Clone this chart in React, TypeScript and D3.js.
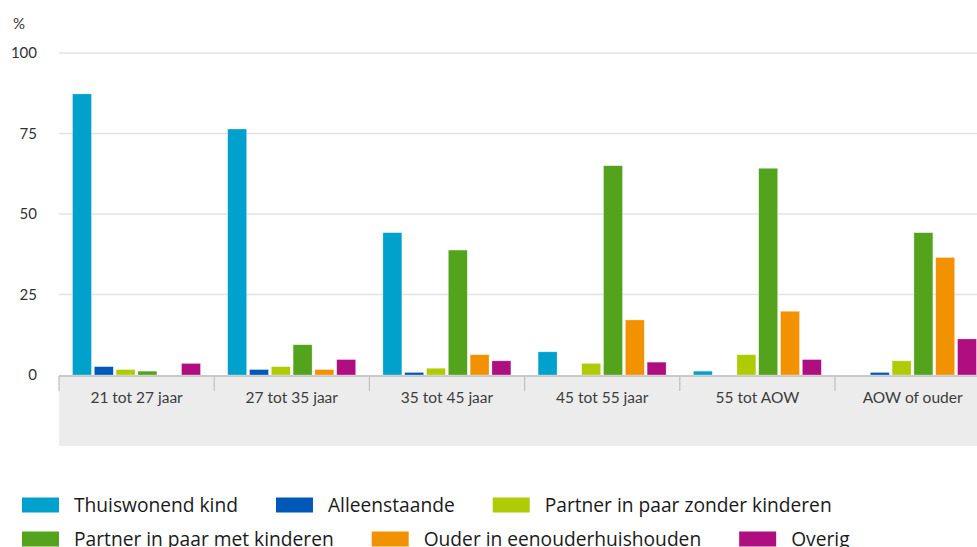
import React from "react";
import * as d3 from "d3";

const categories = ["21 tot 27 jaar", "27 tot 35 jaar", "35 tot 45 jaar", "45 tot 55 jaar", "55 tot AOW", "AOW of ouder"];
const seriesNames = ["Thuiswonend kind", "Alleenstaande", "Partner in paar zonder kinderen", "Partner in paar met kinderen", "Ouder in eenouderhuishouden", "Overig"];
const seriesColors = ["#00a1cd", "#0058b8", "#afcb05", "#53a31d", "#f39200", "#af0e80"];
const thuiswonend = [87.3, 76.4, 44.2, 7.2, 1.2, 0];
const alleenstaande = [2.6, 1.7, 0.8, 0, 0, 0.8];
const partnerZonder = [1.7, 2.6, 2.1, 3.6, 6.3, 4.4];
const partnerMet = [1.2, 9.4, 38.8, 65.0, 64.2, 44.2];
const ouder = [0, 1.7, 6.3, 17.1, 19.8, 36.5];
const overig = [3.6, 4.8, 4.4, 4.0, 4.8, 11.2];
const yTicks = [0, 25, 50, 75, 100];

const seriesValues = [thuiswonend, alleenstaande, partnerZonder, partnerMet, ouder, overig];

const W = 977;
const H = 547;
const FONT = "Lato, 'Open Sans', sans-serif";
const LEGEND_FONT = "'Open Sans', sans-serif";

function measure(text: string, size: number) {
  const c = document.createElement("canvas").getContext("2d");
  if (!c) return text.length * size * 0.55;
  c.font = `${size}px 'Open Sans'`;
  return c.measureText(text).width;
}

export default function App() {
  const x0 = d3.scaleBand<string>().domain(categories).range([59, 59 + 6 * 155.2]).padding(0);
  const x1 = d3.scaleBand<string>().domain(seriesNames).range([13.5, 141.5]).paddingInner(0.13).paddingOuter(0);
  const y = d3.scaleLinear().domain([0, 100]).range([375, 53]);

  const legendRows = [[0, 1, 2], [3, 4, 5]];
  const legendFont = 19.2;

  return (
    <svg width={W} height={H} style={{ position: "absolute", left: 0, top: 0 }} fontFamily={FONT}>
      <rect x={0} y={0} width={W} height={H} fill="#fff" />
      {yTicks.filter(t => t > 0).map(t => (
        <line key={t} x1={59} x2={W} y1={y(t)} y2={y(t)} stroke="#e3e3e3" strokeWidth={1.5} />
      ))}
      {yTicks.map(t => (
        <text key={t} x={37} y={y(t)} dy="0.35em" textAnchor="end" fontSize={15} fill="#333">{t}</text>
      ))}
      <text x={13} y={24} dy="0.35em" fontSize={15} fill="#333">%</text>
      <rect x={59} y={376} width={W - 59} height={70} fill="#ececec" />
      <line x1={59} x2={W} y1={376} y2={376} stroke="#c8c8c8" strokeWidth={2} />
      {categories.map(c => (
        <line key={"t" + c} x1={x0(c)!} x2={x0(c)!} y1={376} y2={391} stroke="#c0c0c0" strokeWidth={1.2} />
      ))}
      {categories.map(c => (
        <text key={"l" + c} x={x0(c)! + x0.bandwidth() / 2} y={398} dy="0.35em" textAnchor="middle" fontSize={15.5} fill="#3c3c3c">{c}</text>
      ))}
      {categories.map((c, ci) => (
        <g key={"g" + c} transform={`translate(${x0(c)},0)`}>
          {seriesNames.map((s, si) => {
            const v = seriesValues[si][ci];
            if (v <= 0) return null;
            return (
              <rect key={s} x={x1(s)!} y={y(v)} width={x1.bandwidth()} height={y(0) - y(v)}
                fill={seriesColors[si]} stroke="#ffffff" strokeOpacity={0.5} strokeWidth={0.6} />
            );
          })}
        </g>
      ))}
      {legendRows.map((row, ri) => {
        let cx = 22;
        const cy = 505 + ri * 34;
        return (
          <g key={"r" + ri}>
            {row.map(si => {
              const sx = cx;
              const tw = measure(seriesNames[si], legendFont);
              cx = sx + 37 + 15 + tw + 38;
              return (
                <g key={si}>
                  <rect x={sx} y={cy - 7.5} width={37} height={15} fill={seriesColors[si]} />
                  <text x={sx + 52} y={cy} dy="0.35em" fontSize={legendFont} fontFamily={LEGEND_FONT} fill="#1a1a1a">{seriesNames[si]}</text>
                </g>
              );
            })}
          </g>
        );
      })}
    </svg>
  );
}
